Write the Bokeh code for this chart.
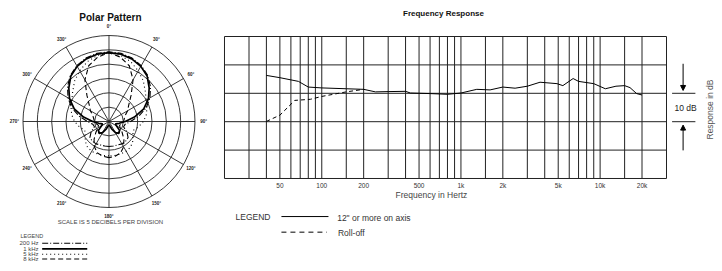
import numpy as np
from bokeh.plotting import figure
from bokeh.layouts import row
from bokeh.models import Arrow, NormalHead
from bokeh.core.properties import value
from bokeh.embed import file_html
from bokeh.resources import INLINE

FONT = "Liberation Sans"
INK = "#222222"

# ---------------- Polar pattern data (dB, 5 dB per division, symmetric) ----------------
polar_angles = [0, 10, 20, 30, 40, 50, 60, 70, 80, 90, 100, 110, 120, 130, 140, 150, 160, 170, 180]
db_200hz = [-5.7, -5.85, -6.45, -7.5, -9.0, -11.1, -13.5, -16.2, -19.5, -22.5, -24.3, -24.6, -22.8, -21.3, -21.0, -21.0, -21.3, -21.3, -21.3]
db_1khz = [-6.0, -6.15, -6.75, -7.8, -9.3, -11.7, -14.1, -17.1, -21.0, -24.3, -26.4, -27.6, -27.0, -25.2, -24.6, -25.5, -27.3, -28.5, -28.8]
db_5khz = [-6.0, -6.6, -7.8, -9.6, -11.4, -13.5, -15.0, -15.9, -16.8, -18.0, -19.5, -21.0, -20.4, -19.2, -18.3, -18.0, -18.0, -18.0, -18.0]
db_8khz = [-6.0, -7.2, -9.3, -13.2, -18.0, -21.0, -22.5, -24.0, -24.6, -24.9, -25.5, -26.1, -25.5, -24.0, -21.9, -19.8, -18.3, -17.7, -17.4]
polar_names = ["200 Hz", "1 kHz", "5 kHz", "8 kHz"]
ring_db = [-25, -20, -15, -10, -5, 0]
DB_FLOOR = -30
spoke_angles = [0, 30, 60, 90, 120, 150]
label_angles = [0, 30, 60, 90, 120, 150, 180, 210, 240, 270, 300, 330]
angle_labels = ["0°", "30°", "60°", "90°", "120°", "150°", "180°", "210°", "240°", "270°", "300°", "330°"]

# ---------------- Frequency response data ----------------
solid_freq = [40, 50, 68, 80, 100, 150, 200, 243, 300, 400, 433, 600, 800, 1000, 1300, 1620, 2000, 2450, 3000,
              3700, 4900, 5400, 6400, 7000, 9000, 10900, 13000, 15000, 16400, 18300, 20000]
solid_db = [6.3, 5.5, 4.2, 2.2, 1.9, 1.6, 1.4, 0.5, 0.6, 0.7, 0.1, -0.1, -0.35, 0.1, 1.4, 1.2, 2.2, 1.8, 2.5,
            3.9, 3.4, 2.7, 5.2, 4.2, 3.4, 1.6, 2.5, 2.7, 2.0, -0.1, -0.6]
roll_freq = [40, 50, 64, 83, 100, 150, 200]
roll_db = [-9.9, -7.7, -2.5, -2.1, -1.1, 0.5, 1.4]
grid_freqs = [20, 30, 40, 50, 60, 70, 80, 90, 100, 150, 200, 300, 400, 500, 600, 700, 800, 900, 1000,
              1500, 2000, 3000, 4000, 5000, 6000, 7000, 8000, 9000, 10000, 15000, 20000, 30000]
grid_db = [-30, -20, -10, 0, 10, 20]
tick_freqs = [50, 100, 200, 500, 1000, 2000, 5000, 10000, 20000]
tick_labels = ["50", "100", "200", "500", "1k", "2k", "5k", "10k", "20k"]
F_MIN, F_MAX = 20, 30000
DB_MIN, DB_MAX = -30, 20


def to_r(db):
    return 1 + np.asarray(db, dtype=float) / (-DB_FLOOR)


# ======================= Polar figure =======================
p1 = figure(width=218, height=271, x_range=(-1.2616, 1.2733), y_range=(-1.744, 1.407),
            output_backend="svg", toolbar_location=None, x_axis_location=None, y_axis_location=None,
            min_border=0)
p1.grid.visible = False
p1.outline_line_color = None

rr = to_r(ring_db)
p1.circle(x=[0] * len(rr), y=[0] * len(rr), radius=rr, fill_color=None, line_color=INK, line_width=0.9)
sa = np.radians(spoke_angles)
p1.segment(x0=-np.sin(sa), y0=-np.cos(sa), x1=np.sin(sa), y1=np.cos(sa), line_color=INK, line_width=0.9)

la = np.radians(label_angles)
p1.text(x=1.1 * np.sin(la), y=1.1 * np.cos(la), text=angle_labels, text_font=value(FONT),
        text_font_size="4.5px", text_font_style="bold", text_align="center", text_baseline="middle",
        text_color=INK)

styles = [dict(line_dash="6 2 1 2", line_width=1.1),
          dict(line_dash="solid", line_width=1.7),
          dict(line_dash="1 3", line_width=1.1),
          dict(line_dash="5 3", line_width=1.1)]
ang = np.array(polar_angles, dtype=float)
theta = np.radians(np.concatenate([-ang[::-1][:-1], ang]))
for dbs, st in zip([db_200hz, db_1khz, db_5khz, db_8khz], styles):
    r = to_r(dbs)
    rfull = np.concatenate([r[::-1][:-1], r])
    p1.line(x=rfull * np.sin(theta), y=rfull * np.cos(theta), line_color="black", **st)

p1.text(x=[0.017], y=[1.209], text=["Polar Pattern"], text_font=value(FONT), text_font_size="10px",
        text_font_style="bold", text_align="center", text_baseline="middle", text_color="#111")
p1.text(x=[0.017], y=[-1.174], text=["SCALE IS 5 DECIBELS PER DIVISION"], text_font=value(FONT),
        text_font_size="6px", text_align="center", text_baseline="middle", text_color="#444")
p1.text(x=[-1.029], y=[-1.326], text=["LEGEND"], text_font=value(FONT),
        text_font_size="5.5px", text_align="left", text_baseline="middle", text_color="#444")
leg_y = [-1.415, -1.480, -1.543, -1.599]
p1.text(x=[-0.820] * 4, y=leg_y, text=polar_names, text_font=value(FONT), text_font_size="6px",
        text_align="right", text_baseline="middle", text_color="#444")
for yy, st in zip(leg_y, styles):
    p1.segment(x0=[-0.777], y0=[yy], x1=[-0.253], y1=[yy], line_color="black", **st)

# ======================= Frequency response figure =======================
p2 = figure(width=504, height=271, x_axis_type="log", x_range=(18.11, 75760), y_range=(-62.75, 32.68),
            output_backend="svg", toolbar_location=None, x_axis_location=None, y_axis_location=None,
            min_border=0)
p2.grid.visible = False
p2.outline_line_color = None

# grid box
p2.segment(x0=grid_freqs, y0=[DB_MIN] * len(grid_freqs), x1=grid_freqs, y1=[DB_MAX] * len(grid_freqs),
           line_color=INK, line_width=1)
p2.segment(x0=[F_MIN] * len(grid_db), y0=grid_db, x1=[F_MAX] * len(grid_db), y1=grid_db,
           line_color=INK, line_width=1)

p2.line(x=solid_freq, y=solid_db, line_color="black", line_width=1)
p2.line(x=roll_freq, y=roll_db, line_color="black", line_width=1, line_dash="4 3")

p2.text(x=tick_freqs, y=[-32.6] * len(tick_freqs), text=tick_labels, text_font=value(FONT),
        text_font_size="6.5px", text_align="center", text_baseline="middle", text_color="#333")
p2.text(x=[614], y=[-35.8], text=["Frequency in Hertz"], text_font=value(FONT), text_font_size="8.5px",
        text_align="center", text_baseline="middle", text_color="#444")
p2.text(x=[749], y=[28.1], text=["Frequency Response"], text_font=value(FONT), text_font_size="8px",
        text_font_style="bold", text_align="center", text_baseline="middle", text_color="#111")

# legend
p2.text(x=[24], y=[-43.6], text=["LEGEND"], text_font=value(FONT), text_font_size="8.5px",
        text_align="left", text_baseline="middle", text_color="#333")
p2.segment(x0=[51.3], y0=[-43.4], x1=[111.7], y1=[-43.4], line_color="black", line_width=1)
p2.segment(x0=[51.3], y0=[-48.9], x1=[109], y1=[-48.9], line_color="black", line_width=1, line_dash="5 4")
p2.text(x=[129, 130.6], y=[-43.8, -49.1], text=['12" or more on axis', "Roll-off"], text_font=value(FONT),
        text_font_size="8.5px", text_align="left", text_baseline="middle", text_color="#333")

# 10 dB scale annotation
p2.segment(x0=[32900, 32900], y0=[0, -10], x1=[48370, 48370], y1=[0, -10], line_color=INK, line_width=1)
p2.add_layout(Arrow(end=NormalHead(size=5, fill_color="black", line_color="black"),
                    x_start=39480, y_start=10.4, x_end=39480, y_end=1.0, line_width=1, line_color="black"))
p2.add_layout(Arrow(end=NormalHead(size=5, fill_color="black", line_color="black"),
                    x_start=39480, y_start=-20.1, x_end=39480, y_end=-11.2, line_width=1, line_color="black"))
p2.text(x=[41100], y=[-5], text=["10 dB"], text_font=value(FONT), text_font_size="8.5px",
        text_align="center", text_baseline="middle", text_color="#222")
p2.text(x=[62000], y=[-5.7], text=["Response in dB"], text_font=value(FONT), text_font_size="8.5px",
        text_align="center", text_baseline="middle", text_color="#555", angle=np.pi / 2)

layout = row(p1, p2)
open("out.html", "w").write(file_html(layout, INLINE))
